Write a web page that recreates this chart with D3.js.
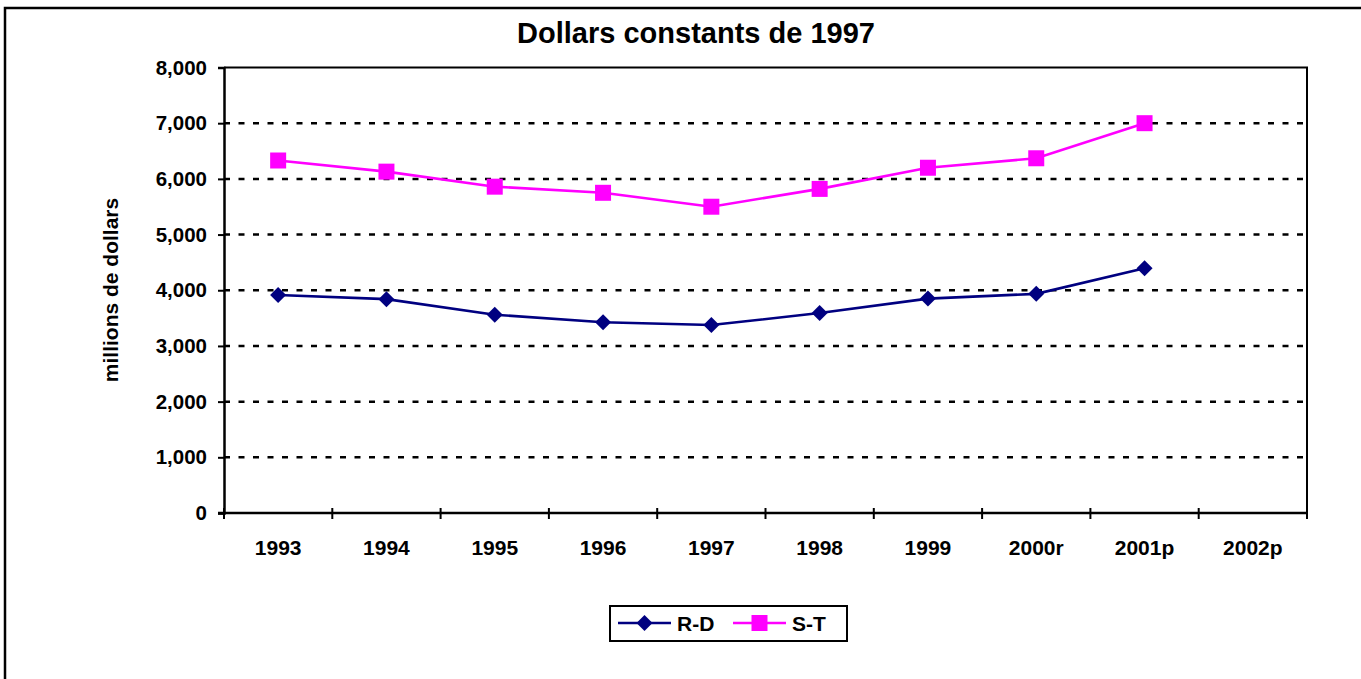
<!DOCTYPE html>
<html>
<head>
<meta charset="utf-8">
<script src="https://cdn.jsdelivr.net/npm/d3@7"></script>
<style>
  body { margin: 0; background: #fff; }
  text { font-family: "Liberation Sans", Arial, sans-serif; font-weight: bold; }
</style>
</head>
<body>
<div id="chart_container"></div>
<script>
// categories and series values
var years = ["1993", "1994", "1995", "1996", "1997", "1998", "1999", "2000r", "2001p", "2002p"];
var rd = [3915, 3840, 3560, 3425, 3375, 3590, 3850, 3935, 4395, null];
var st = [6330, 6130, 5860, 5750, 5500, 5820, 6200, 6370, 7000, null];
var yTicks = [0, 1000, 2000, 3000, 4000, 5000, 6000, 7000, 8000];

var width = 1361,
    height = 679;
var plot = {left: 224, right: 1307, top: 67.5, bottom: 513};

var svg = d3.select("#chart_container").append("svg")
    .attr("width", width)
    .attr("height", height);

// outer frame (right and bottom run off the picture)
svg.append("rect")
  .attr("x", 5).attr("y", 8)
  .attr("width", 1400).attr("height", 700)
  .attr("fill", "none").attr("stroke", "#000").attr("stroke-width", 2.5);

svg.append("text")
  .attr("x", 696).attr("y", 43)
  .attr("text-anchor", "middle")
  .style("font-size", "29px")
  .text("Dollars constants de 1997");

var x = d3.scaleBand().domain(years).range([plot.left, plot.right]);
var y = d3.scaleLinear().domain([0, 8000]).range([plot.bottom, plot.top]);

// gridlines
svg.selectAll(".grid")
  .data(yTicks.filter(d => d > 0 && d < 8000))
  .enter().append("line")
  .attr("x1", plot.left).attr("x2", plot.right)
  .attr("y1", d => y(d)).attr("y2", d => y(d))
  .attr("stroke", "#000").attr("stroke-width", 2.5)
  .attr("stroke-dasharray", "6,8.5");

// top and right of plot area
svg.append("path")
  .attr("d", "M" + plot.left + "," + plot.top + "H" + plot.right + "V" + plot.bottom)
  .attr("fill", "none").attr("stroke", "#000").attr("stroke-width", 2);

// y axis
var yAxis = svg.append("g")
  .attr("transform", "translate(" + plot.left + ",0)")
  .call(d3.axisLeft(y).tickValues(yTicks).tickSize(6).tickPadding(11).tickFormat(d3.format(",")));
yAxis.select(".domain").attr("stroke-width", 2.5);
yAxis.selectAll(".tick line").attr("stroke-width", 2);
yAxis.selectAll("text").style("font-size", "20.5px").style("font-family", "Liberation Sans, Arial").style("font-weight", "bold");

// x axis: ticks at category boundaries
var xAxis = svg.append("g")
  .attr("transform", "translate(0," + plot.bottom + ")");
xAxis.append("line")
  .attr("x1", plot.left - 6).attr("x2", plot.right)
  .attr("stroke", "#000").attr("stroke-width", 2.5);
xAxis.selectAll(".xt")
  .data(years.concat(["end"]))
  .enter().append("line")
  .attr("x1", (d, i) => i < years.length ? x(d) : plot.right)
  .attr("x2", (d, i) => i < years.length ? x(d) : plot.right)
  .attr("y1", -5).attr("y2", 6)
  .attr("stroke", "#000").attr("stroke-width", 2);
xAxis.selectAll(".xl")
  .data(years)
  .enter().append("text")
  .attr("x", d => x(d) + x.bandwidth() / 2)
  .attr("y", 42)
  .attr("text-anchor", "middle")
  .style("font-size", "21px")
  .text(d => d);

svg.append("text")
  .attr("transform", "translate(118,290) rotate(-90)")
  .attr("text-anchor", "middle")
  .style("font-size", "21px")
  .text("millions de dollars");

var cx = d => x(d) + x.bandwidth() / 2;
var sq = "M-8,-8H8V8H-8Z",
    di = "M0,-8L8,0L0,8L-8,0Z";

function drawSeries(values, color, shape) {
  var pts = years.map((yr, i) => ({yr: yr, v: values[i]})).filter(d => d.v != null);
  svg.append("path")
    .datum(pts)
    .attr("fill", "none").attr("stroke", color).attr("stroke-width", 2.6)
    .attr("d", d3.line().x(d => cx(d.yr)).y(d => y(d.v)));
  svg.selectAll(".m" + shape)
    .data(pts)
    .enter().append("path")
    .attr("transform", d => "translate(" + cx(d.yr) + "," + y(d.v) + ")")
    .attr("d", shape == "sq" ? sq : di)
    .attr("fill", color);
}
drawSeries(rd, "#000080", "di");
drawSeries(st, "#ff00ff", "sq");

// legend
var lg = svg.append("g");
lg.append("rect")
  .attr("x", 610).attr("y", 606).attr("width", 237).attr("height", 35)
  .attr("fill", "#fff").attr("stroke", "#000").attr("stroke-width", 2);
var items = [{name: "R-D", color: "#000080", shape: "di", x0: 618}, {name: "S-T", color: "#ff00ff", shape: "sq", x0: 733}];
items.forEach(function(it) {
  lg.append("line")
    .attr("x1", it.x0).attr("x2", it.x0 + 53)
    .attr("y1", 623).attr("y2", 623)
    .attr("stroke", it.color).attr("stroke-width", 2.4);
  lg.append("path")
    .attr("transform", "translate(" + (it.x0 + 26.5) + ",623)")
    .attr("d", it.shape == "sq" ? sq : di)
    .attr("fill", it.color);
  lg.append("text")
    .attr("x", it.x0 + 59).attr("y", 631)
    .style("font-size", "21px")
    .text(it.name);
});
</script>
</body>
</html>
